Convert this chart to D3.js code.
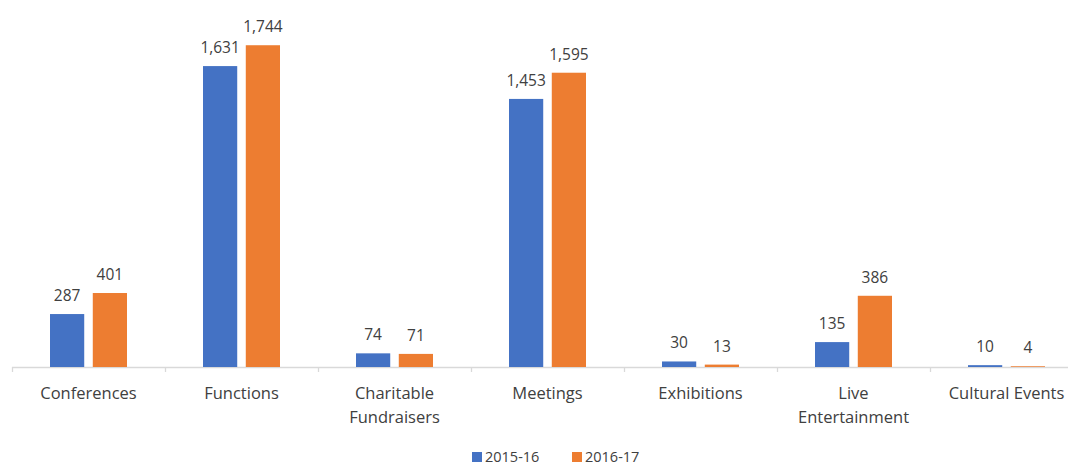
<!DOCTYPE html>
<html>
<head>
<meta charset="utf-8">
<script src="https://cdn.jsdelivr.net/npm/d3@7"></script>
<style>
  html, body { margin: 0; padding: 0; background: #fff; }
  svg { display: block; }
  text { font-family: "Open Sans", "Noto Sans", sans-serif; fill: #404040; }
</style>
</head>
<body>
<svg id="chart" width="1068" height="464"></svg>
<script>
// Event counts by category, two financial years
const categories = [
  ["Conferences"],
  ["Functions"],
  ["Charitable", "Fundraisers"],
  ["Meetings"],
  ["Exhibitions"],
  ["Live", "Entertainment"],
  ["Cultural Events"]
];
const seriesNames = ["2015-16", "2016-17"];
const values2015 = [287, 1631, 74, 1453, 30, 135, 10];
const values2016 = [401, 1744, 71, 1595, 13, 386, 4];
const colors = ["#4472C4", "#ED7D31"];

const svg = d3.select("#chart");
const baseY = 367;
const plotLeft = 12, bandStep = 153;

const x = d3.scaleBand()
  .domain(d3.range(categories.length))
  .range([plotLeft, plotLeft + bandStep * categories.length])
  .paddingInner(0).paddingOuter(0);

const y = d3.scaleLinear().domain([0, 2000]).range([baseY, baseY - 369]);

const xSub = d3.scaleBand().domain([0, 1]).range([38, 115]).paddingInner(0.2);

// axis line and category boundary ticks
svg.append("line")
  .attr("x1", plotLeft).attr("x2", 1068)
  .attr("y1", baseY + 0.5).attr("y2", baseY + 0.5)
  .attr("stroke", "#d9d9d9").attr("stroke-width", 1.3);
svg.selectAll("line.tick")
  .data(d3.range(categories.length + 1))
  .join("line")
  .attr("class", "tick")
  .attr("x1", i => plotLeft + i * bandStep + 0.5)
  .attr("x2", i => plotLeft + i * bandStep + 0.5)
  .attr("y1", baseY).attr("y2", baseY + 5)
  .attr("stroke", "#d9d9d9").attr("stroke-width", 1.3);

const rows = [values2015, values2016];
rows.forEach((vals, s) => {
  const g = svg.append("g");
  g.selectAll("rect")
    .data(vals)
    .join("rect")
    .attr("x", (d, i) => x(i) + xSub(s))
    .attr("width", xSub.bandwidth())
    .attr("y", d => y(d))
    .attr("height", d => baseY - y(d))
    .attr("fill", colors[s]);
  g.selectAll("text")
    .data(vals)
    .join("text")
    .attr("x", (d, i) => x(i) + xSub(s) + xSub.bandwidth() / 2)
    .attr("y", d => y(d) - 13)
    .attr("text-anchor", "middle")
    .attr("font-size", 15.5)
    .text(d => d3.format(",")(d));
});

// category labels
const catG = svg.append("g");
categories.forEach((lines, i) => {
  const t = catG.append("text")
    .attr("x", x(i) + bandStep / 2)
    .attr("y", 399)
    .attr("text-anchor", "middle")
    .attr("font-size", 16.5);
  lines.forEach((ln, k) => {
    t.append("tspan").attr("x", x(i) + bandStep / 2).attr("dy", k === 0 ? 0 : 24).text(ln);
  });
});

// legend
const legend = svg.append("g").attr("transform", "translate(472,456)");
const legendX = [0, 100];
seriesNames.forEach((name, s) => {
  legend.append("rect")
    .attr("x", legendX[s]).attr("y", -4).attr("width", 10).attr("height", 10)
    .attr("fill", colors[s]);
  legend.append("text")
    .attr("x", legendX[s] + 13).attr("y", 5.5)
    .attr("font-size", 14.5)
    .text(name);
});
</script>
</body>
</html>
